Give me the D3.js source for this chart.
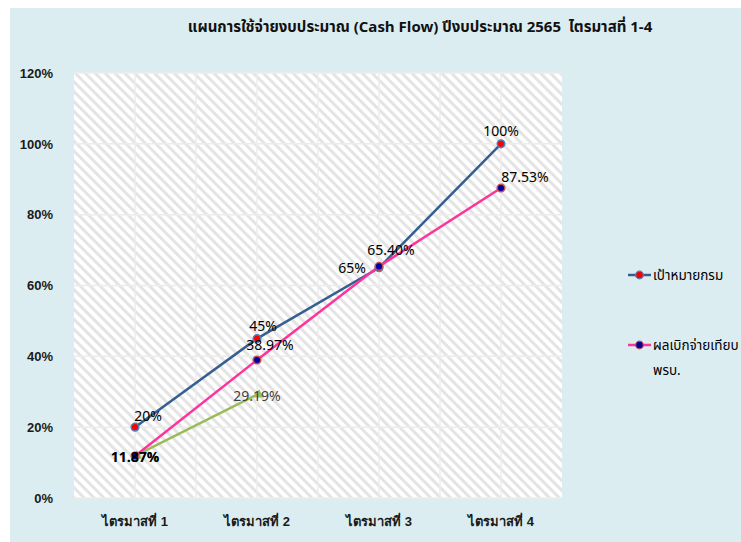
<!DOCTYPE html>
<html>
<head>
<meta charset="utf-8">
<script src="https://cdn.jsdelivr.net/npm/d3@7"></script>
<style>
  html, body { margin: 0; padding: 0; background: #ffffff; }
  svg { display: block; font-family: Tahoma, "Noto Sans Thai", "Noto Sans", "DejaVu Sans", sans-serif; }
</style>
</head>
<body>
<svg id="chart" width="741" height="542"></svg>
<script>
// Chart data
const title = "แผนการใช้จ่ายงบประมาณ (Cash Flow) ปีงบประมาณ 2565  ไตรมาสที่ 1-4";
const quarters = ["ไตรมาสที่ 1", "ไตรมาสที่ 2", "ไตรมาสที่ 3", "ไตรมาสที่ 4"];
const yTicks = [0, 0.2, 0.4, 0.6, 0.8, 1.0, 1.2];
const targetValues = [0.20, 0.45, 0.65, 1.00];
const targetLabels = ["20%", "45%", "65%", "100%"];
const actualValues = [0.1187, 0.3897, 0.654, 0.8753];
const actualLabels = ["11.87%", "38.97%", "65.40%", "87.53%"];
const extraValues = [0.1187, 0.2919];
const extraLabels = ["11.87%", "29.19%"];
const legendNames = ["เป้าหมายกรม", "ผลเบิกจ่ายเทียบ", "พรบ."];

// label nudges (dx, dy) per point
const targetNudge = [[13, -6], [6, -8], [-13, 5], [0, -8]];
const actualNudge = [[0, 6], [13, -10], [12, -11], [24, -6]];
const extraNudge = [[0, 6], [0, 6]];

const svg = d3.select("#chart");
const W = 741, H = 542;

const defs = svg.append("defs");
const stripes = defs.append("pattern")
  .attr("id", "stripes")
  .attr("patternUnits", "userSpaceOnUse")
  .attr("width", 7)
  .attr("height", 7)
  .attr("patternTransform", "rotate(-45)");
stripes.append("rect").attr("width", 7).attr("height", 7).attr("fill", "#ffffff");
stripes.append("rect").attr("width", 3).attr("height", 7).attr("fill", "#e4e4e4");

// Outer chart area
svg.append("rect")
  .attr("x", 10).attr("y", 8)
  .attr("width", W - 10).attr("height", H - 8)
  .attr("fill", "#dcedf1");

const plot = { left: 74, top: 73, right: 562, bottom: 498 };

const x = d3.scaleBand()
  .domain(quarters)
  .range([plot.left, plot.right]);

const y = d3.scaleLinear()
  .domain([0, 1.2])
  .range([plot.bottom, plot.top]);

const cx = i => x(quarters[i]) + x.bandwidth() / 2;

// Plot area
svg.append("rect")
  .attr("x", plot.left).attr("y", plot.top)
  .attr("width", plot.right - plot.left)
  .attr("height", plot.bottom - plot.top)
  .attr("fill", "url(#stripes)");

// Grid
const grid = svg.append("g").attr("stroke", "#ececec").attr("stroke-width", 1.5);
grid.selectAll("line.h")
  .data(yTicks)
  .enter()
  .append("line")
  .attr("x1", plot.left).attr("x2", plot.right)
  .attr("y1", d => y(d)).attr("y2", d => y(d));
grid.selectAll("line.vc")
  .data(quarters)
  .enter()
  .append("line")
  .attr("x1", d => x(d) + x.bandwidth() / 2)
  .attr("x2", d => x(d) + x.bandwidth() / 2)
  .attr("y1", plot.top).attr("y2", plot.bottom);
grid.selectAll("line.vb")
  .data(quarters.slice(1))
  .enter()
  .append("line")
  .attr("x1", d => x(d)).attr("x2", d => x(d))
  .attr("y1", plot.top).attr("y2", plot.bottom);

// Axes
const yAxis = svg.append("g")
  .attr("transform", `translate(${plot.left - 18},0)`)
  .call(d3.axisLeft(y).tickValues(yTicks).tickFormat(d3.format(".0%")).tickSize(0));
yAxis.select(".domain").remove();
yAxis.selectAll("text")
  .attr("font-size", 13)
  .attr("font-weight", "bold")
  .attr("fill", "#1a1a1a")
  .attr("font-family", "inherit");

const xAxis = svg.append("g")
  .attr("transform", `translate(0,${plot.bottom + 16})`)
  .call(d3.axisBottom(x).tickSize(0));
xAxis.select(".domain").remove();
xAxis.selectAll("text")
  .attr("font-size", 13)
  .attr("font-weight", "bold")
  .attr("fill", "#1a1a1a")
  .attr("font-family", "inherit");

// Title
svg.append("text")
  .attr("x", 420).attr("y", 32)
  .attr("text-anchor", "middle")
  .attr("font-size", 15)
  .attr("font-weight", "bold")
  .attr("fill", "#111")
  .style("white-space", "pre")
  .text(title);

// Series
const line = d3.line().x((d, i) => cx(i)).y(d => y(d));

function drawSeries(values, color, width) {
  svg.append("path")
    .datum(values)
    .attr("fill", "none")
    .attr("stroke", color)
    .attr("stroke-width", width)
    .attr("d", line);
}

drawSeries(extraValues, "#9bbb59", 2.5);
drawSeries(targetValues, "#355f91", 2.5);
drawSeries(actualValues, "#ff339a", 2.5);

// Markers
svg.append("g").selectAll("path")
  .data(extraValues)
  .enter()
  .append("path")
  .attr("d", d3.symbol().type(d3.symbolTriangle).size(40))
  .attr("transform", (d, i) => `translate(${cx(i) + 2},${y(d)})`)
  .attr("fill", "#9bbb59");

svg.append("g").selectAll("circle")
  .data(targetValues)
  .enter()
  .append("circle")
  .attr("cx", (d, i) => cx(i))
  .attr("cy", d => y(d))
  .attr("r", 3.8)
  .attr("fill", "#ff0000")
  .attr("stroke", "#4f81bd")
  .attr("stroke-width", 1.5);

svg.append("g").selectAll("circle")
  .data(actualValues)
  .enter()
  .append("circle")
  .attr("cx", (d, i) => cx(i))
  .attr("cy", d => y(d))
  .attr("r", 3.8)
  .attr("fill", "#0000a0")
  .attr("stroke", "#c0504d")
  .attr("stroke-width", 1.5);

// Data labels
function drawLabels(values, labels, nudge, color, weightFn, anchorFn) {
  svg.append("g").selectAll("text")
    .data(values)
    .enter()
    .append("text")
    .attr("x", (d, i) => cx(i) + nudge[i][0])
    .attr("y", (d, i) => y(d) + nudge[i][1])
    .attr("text-anchor", (d, i) => anchorFn(i))
    .attr("font-size", 14)
    .attr("font-weight", (d, i) => weightFn(i))
    .attr("fill", color)
    .text((d, i) => labels[i]);
}

drawLabels(extraValues, extraLabels, extraNudge, "#404040", () => "normal", () => "middle");
drawLabels(targetValues, targetLabels, targetNudge, "#000", () => "normal", i => (i === 2 ? "end" : "middle"));
drawLabels(actualValues, actualLabels, actualNudge, "#000", i => (i === 0 ? "bold" : "normal"), () => "middle");

// Legend
const legend = svg.append("g");
const legendRows = [
  { y: 275, stroke: "#355f91", fill: "#ff0000", ring: "#4f81bd", text: [legendNames[0]] },
  { y: 345, stroke: "#ff339a", fill: "#0000a0", ring: "#c0504d", text: [legendNames[1], legendNames[2]] }
];
legendRows.forEach(r => {
  legend.append("line")
    .attr("x1", 628).attr("x2", 651)
    .attr("y1", r.y).attr("y2", r.y)
    .attr("stroke", r.stroke).attr("stroke-width", 2.5);
  legend.append("circle")
    .attr("cx", 639.5).attr("cy", r.y).attr("r", 3.8)
    .attr("fill", r.fill).attr("stroke", r.ring).attr("stroke-width", 1.2);
  r.text.forEach((t, k) => {
    legend.append("text")
      .attr("x", 653).attr("y", r.y + 5 + k * 25)
      .attr("font-size", 13.5)
      .attr("fill", "#000")
      .text(t);
  });
});
</script>
</body>
</html>
